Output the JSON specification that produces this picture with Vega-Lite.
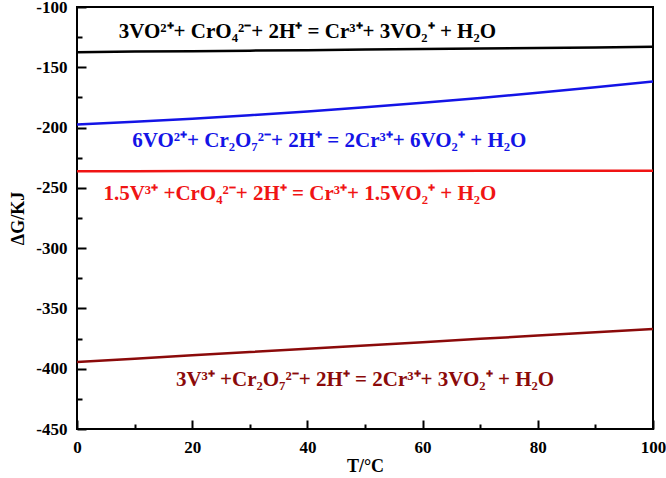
{
  "$schema": "https://vega.github.io/schema/vega-lite/v6.json",
  "autosize": "none",
  "width": 576,
  "height": 422,
  "padding": {"left": 77, "top": 7, "right": 13, "bottom": 49},
  "background": "white",
  "config": {
    "view": {"stroke": "black", "strokeWidth": 2},
    "font": "Liberation Serif"
  },
  "datasets": {
    "lines": [
      {"T": 0, "G": -137.5, "s": "a"}, {"T": 10, "G": -137.0, "s": "a"}, {"T": 20, "G": -136.6, "s": "a"}, {"T": 30, "G": -136.2, "s": "a"}, {"T": 40, "G": -135.8, "s": "a"}, {"T": 50, "G": -135.3, "s": "a"}, {"T": 60, "G": -134.9, "s": "a"}, {"T": 70, "G": -134.4, "s": "a"}, {"T": 80, "G": -134.0, "s": "a"}, {"T": 90, "G": -133.5, "s": "a"}, {"T": 100, "G": -133.0, "s": "a"},
      {"T": 0, "G": -197.5, "s": "b"}, {"T": 10, "G": -195.2, "s": "b"}, {"T": 20, "G": -192.7, "s": "b"}, {"T": 30, "G": -189.8, "s": "b"}, {"T": 40, "G": -186.7, "s": "b"}, {"T": 50, "G": -183.2, "s": "b"}, {"T": 60, "G": -179.5, "s": "b"}, {"T": 70, "G": -175.5, "s": "b"}, {"T": 80, "G": -171.2, "s": "b"}, {"T": 90, "G": -166.6, "s": "b"}, {"T": 100, "G": -161.7, "s": "b"},
      {"T": 0, "G": -236.2, "s": "c"}, {"T": 10, "G": -236.2, "s": "c"}, {"T": 20, "G": -236.1, "s": "c"}, {"T": 30, "G": -236.1, "s": "c"}, {"T": 40, "G": -236.0, "s": "c"}, {"T": 50, "G": -236.0, "s": "c"}, {"T": 60, "G": -236.0, "s": "c"}, {"T": 70, "G": -235.9, "s": "c"}, {"T": 80, "G": -235.9, "s": "c"}, {"T": 90, "G": -235.8, "s": "c"}, {"T": 100, "G": -235.8, "s": "c"},
      {"T": 0, "G": -394.4, "s": "d"}, {"T": 10, "G": -391.7, "s": "d"}, {"T": 20, "G": -388.9, "s": "d"}, {"T": 30, "G": -386.2, "s": "d"}, {"T": 40, "G": -383.4, "s": "d"}, {"T": 50, "G": -380.7, "s": "d"}, {"T": 60, "G": -378.0, "s": "d"}, {"T": 70, "G": -375.2, "s": "d"}, {"T": 80, "G": -372.5, "s": "d"}, {"T": 90, "G": -369.7, "s": "d"}, {"T": 100, "G": -367.0, "s": "d"}
    ],
    "labels": [
      {"T": 40, "G": -121, "s": "a", "text": "3VO²⁺+ CrO₄²⁻+ 2H⁺ = Cr³⁺+ 3VO₂⁺ + H₂O"},
      {"T": 43.8, "G": -210.8, "s": "b", "text": "6VO²⁺+ Cr₂O₇²⁻+ 2H⁺ = 2Cr³⁺+ 6VO₂⁺ + H₂O"},
      {"T": 38.7, "G": -255, "s": "c", "text": "1.5V³⁺ +CrO₄²⁻+ 2H⁺ = Cr³⁺+ 1.5VO₂⁺ + H₂O"},
      {"T": 50, "G": -409, "s": "d", "text": "3V³⁺ +Cr₂O₇²⁻+ 2H⁺ = 2Cr³⁺+ 3VO₂⁺ + H₂O"}
    ]
  },
  "resolve": {"axis": {"x": "independent", "y": "independent"}},
  "layer": [
    {
      "data": {"name": "lines"},
      "mark": {"type": "line", "opacity": 0},
      "encoding": {
        "x": {
          "field": "T", "type": "quantitative",
          "scale": {"domain": [0, 100], "nice": false, "zero": false},
          "axis": {
            "orient": "bottom", "title": null, "labels": false, "domain": false, "grid": false, "offset": -5,
            "values": [10, 30, 50, 70, 90], "tickSize": 5, "tickColor": "black", "tickWidth": 2
          }
        },
        "y": {
          "field": "G", "type": "quantitative",
          "scale": {"domain": [-450, -100], "nice": false, "zero": false},
          "axis": {
            "orient": "left", "title": null, "labels": false, "domain": false, "grid": false, "offset": -5,
            "values": [-425, -375, -325, -275, -225, -175, -125], "tickSize": 5, "tickColor": "black", "tickWidth": 2
          }
        }
      }
    },
    {
      "data": {"name": "lines"},
      "mark": {"type": "line", "strokeWidth": 2.5, "clip": true},
      "encoding": {
        "x": {
          "field": "T", "type": "quantitative",
          "scale": {"domain": [0, 100], "nice": false, "zero": false},
          "axis": {
            "orient": "bottom", "offset": -9,
            "title": "T/°C",
            "titleFont": "Liberation Serif", "titleFontSize": 18, "titleFontWeight": "bold", "titleColor": "black", "titlePadding": 2,
            "values": [0, 20, 40, 60, 80, 100],
            "labelExpr": "'' + datum.value",
            "labelFont": "Liberation Serif", "labelFontSize": 17, "labelFontWeight": "bold", "labelColor": "black",
            "labelPadding": 10, "labelFlush": false,
            "tickSize": 9, "tickColor": "black", "tickWidth": 2,
            "domain": false,
            "grid": false
          }
        },
        "y": {
          "field": "G", "type": "quantitative",
          "scale": {"domain": [-450, -100], "nice": false, "zero": false},
          "axis": {
            "orient": "left", "offset": -9,
            "title": "ΔG/KJ",
            "titleFont": "Liberation Serif", "titleFontSize": 18, "titleFontWeight": "bold", "titleColor": "black", "titlePadding": 8,
            "values": [-450, -400, -350, -300, -250, -200, -150, -100],
            "labelExpr": "'' + datum.value",
            "labelFont": "Liberation Serif", "labelFontSize": 17, "labelFontWeight": "bold", "labelColor": "black",
            "labelPadding": 10, "labelFlush": false,
            "tickSize": 9, "tickColor": "black", "tickWidth": 2,
            "domain": false,
            "grid": false
          }
        },
        "color": {
          "field": "s", "type": "nominal",
          "scale": {"domain": ["a", "b", "c", "d"], "range": ["#000000", "#1414e6", "#f01414", "#8b0a0a"]},
          "legend": null
        }
      }
    },
    {
      "data": {"name": "labels"},
      "mark": {"type": "text", "font": "Liberation Serif", "fontSize": 21, "fontWeight": "bold", "align": "center", "baseline": "middle"},
      "encoding": {
        "x": {"field": "T", "type": "quantitative", "axis": null},
        "y": {"field": "G", "type": "quantitative", "axis": null},
        "text": {"field": "text"},
        "color": {"field": "s", "type": "nominal", "legend": null}
      }
    }
  ]
}
